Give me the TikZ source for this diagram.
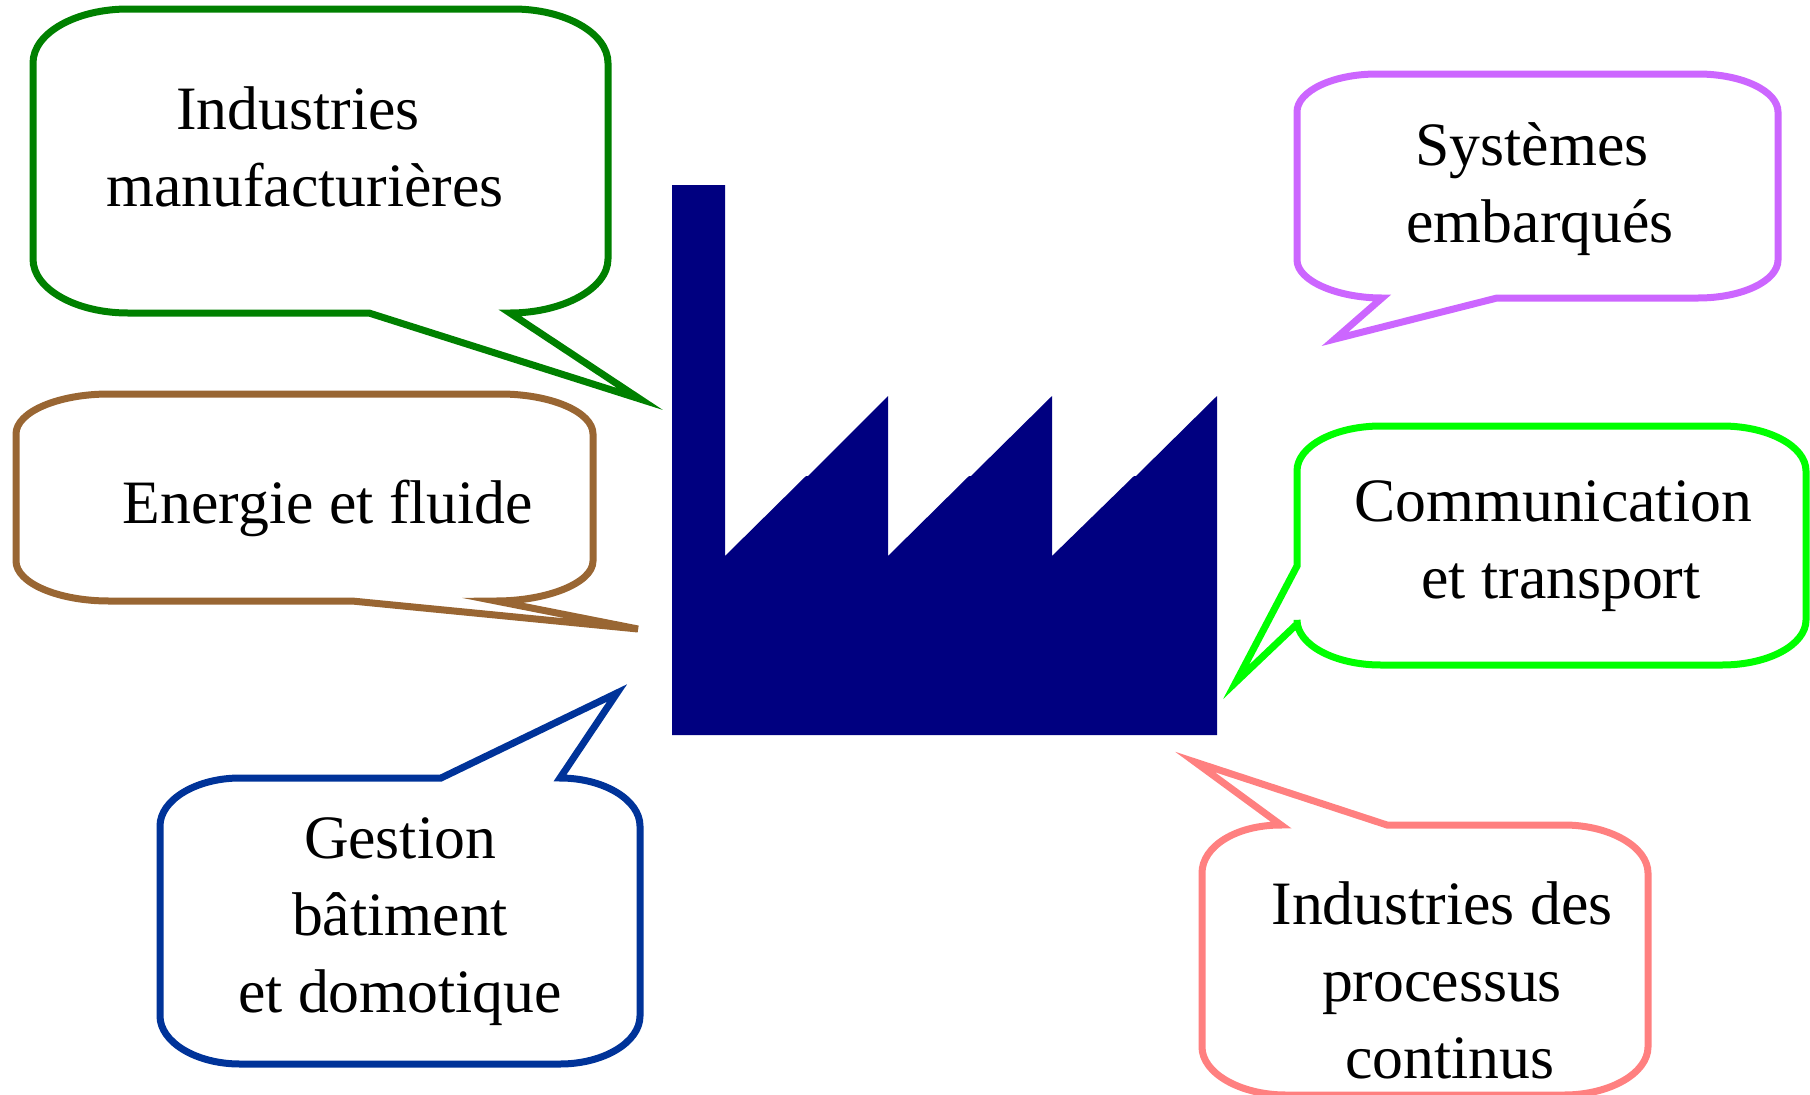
\documentclass[tikz,border=0pt]{standalone}
\usepackage{fontspec}
\setmainfont{Liberation Serif}
\definecolor{vertf}{HTML}{008000}
\definecolor{brun}{HTML}{996633}
\definecolor{bleuf}{HTML}{003399}
\definecolor{mauve}{HTML}{CC66FF}
\definecolor{vertc}{HTML}{00FF00}
\definecolor{rose}{HTML}{FF8080}
\definecolor{usine}{HTML}{000080}
\tikzset{
  bulle/.style={line width=7pt},
  texte/.style={align=center, inner sep=0, font=\fontsize{61.7}{77}\selectfont},
}
\begin{document}
\begin{tikzpicture} [x=1pt,y=-1pt]
\useasboundingbox (0,0) rectangle (1810,1095);
\fill[usine] (672,185)--(725,185)--(725,556)--(806,476)--(808,476)--(888,396)--(888,556)--(969,476)--(971,476)--(1052,396)--(1052,556)--(1134,476)--(1136,476)--(1217,396)--(1217,735)--(672,735)--cycle;
 \draw[bulle,vertf] (33,63) .. controls +(0,-30) and +(-52,0) .. (128,9) --(513,9) .. controls +(52,0) and +(0,-30) .. (608,63) --(608,259) .. controls +(0,30) and +(52,0) .. (510,313) --(640,399)--(369,313)--(128,313) .. controls +(-52,0) and +(0,30) .. (33,259) --cycle;
 \draw[bulle,brun] (16,434) .. controls +(0,-22) and +(-51,0) .. (109,394) --(500,394) .. controls +(51,0) and +(0,-22) .. (593,434) --(593,561) .. controls +(0,22) and +(51,0) .. (496,601) --(638,629)--(352,601)--(109,601) .. controls +(-51,0) and +(0,22) .. (16,561) --cycle;
 \draw[bulle,bleuf] (160,826) .. controls +(0,-26) and +(-44,0) .. (240,778) --(441,778)--(617,693)--(560,778) .. controls +(44,0) and +(0,-26) .. (640,826) --(640,1016) .. controls +(0,26) and +(44,0) .. (560,1064) --(240,1064) .. controls +(-44,0) and +(0,26) .. (160,1016) --cycle;
 \draw[bulle,mauve] (1297,112) .. controls +(0,-21) and +(-44,0) .. (1377,74) --(1698,74) .. controls +(44,0) and +(0,-21) .. (1778,112) --(1778,260) .. controls +(0,21) and +(44,0) .. (1698,298) --(1497,298)--(1335,339)--(1382,298) .. controls +(-44,0) and +(0,21) .. (1297,260) --cycle;
 \draw[bulle,vertc] (1297,471) .. controls +(0,-25) and +(-46,0) .. (1381,426) --(1722,426) .. controls +(46,0) and +(0,-25) .. (1806,471) --(1806,620) .. controls +(0,25) and +(46,0) .. (1722,665) --(1381,665) .. controls +(-46,0) and +(0,25) .. (1297,620) --(1297,624)--(1236,682)--(1297,566)--cycle;
 \draw[bulle,rose] (1202,873) .. controls +(0,-26) and +(-46,0) .. (1281,825) --(1195,762)--(1387,825)--(1564,825) .. controls +(46,0) and +(0,-26) .. (1648,873) --(1648,1047) .. controls +(0,26) and +(46,0) .. (1564,1095) --(1286,1095) .. controls +(-46,0) and +(0,26) .. (1202,1047) --cycle;
\node[texte] (manuf) at (305,147) {Industries\hspace*{14pt}\\manufacturières};
\node[texte] (energie) at (328,508) {Energie et fluide};
\node[texte] (gestion) at (400,922) {Gestion\\bâtiment\\et domotique};
\node[texte] (embarq) at (1540,189) {Systèmes\hspace*{16pt}\\embarqués};
\node[texte] (comm) at (1553,546) {Communication\\\hspace*{16pt}et transport};
\node[texte] (processus) at (1442,980) {Industries des\\processus\\\hspace*{16pt}continus};
\end{tikzpicture}
\end{document}
